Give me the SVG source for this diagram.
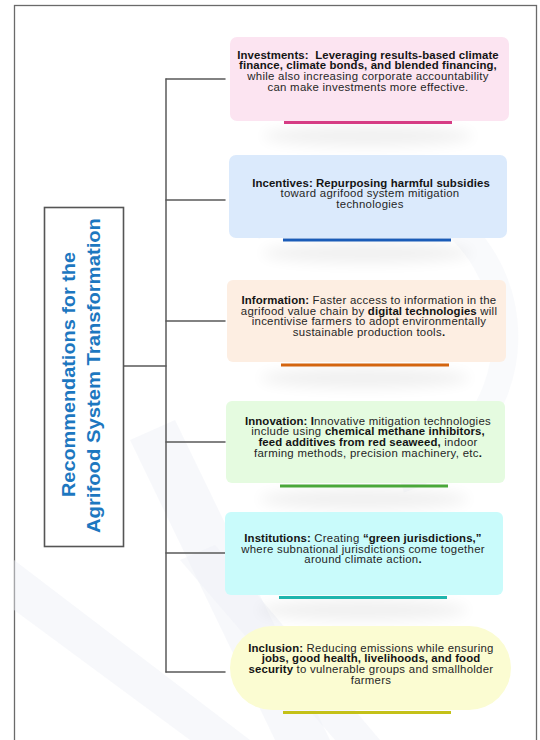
<svg xmlns="http://www.w3.org/2000/svg" width="540" height="740" viewBox="0 0 540 740">
  <defs>
    <filter id="soft" x="-50%" y="-200%" width="200%" height="500%">
      <feGaussianBlur stdDeviation="7"/>
    </filter>
    <style>
      .frame { fill: #ffffff; stroke: #6a6a6a; stroke-width: 1.3; }
      .hub { fill: #ffffff; stroke: #555555; stroke-width: 1.6; }
      .wire { fill: none; stroke: #5a5a5a; stroke-width: 1.5; stroke-linecap: round; }
      .title { font-family: "Liberation Sans", Arial, sans-serif; font-weight: bold; font-size: 18px; fill: #1d77c0; }
      .txt { font-family: "Liberation Sans", Arial, sans-serif; font-size: 11.4px; letter-spacing: 0.28px; fill: #262626; text-anchor: middle; }
      .b { font-weight: bold; fill: #141414; letter-spacing: 0.1px; }
      .shadow { fill: #000000; opacity: 0.06; filter: url(#soft); }
      .mark { fill: #eef0f6; opacity: 0.45; }
    </style>
  </defs>

  <!-- page frame -->
  <rect class="frame" x="14.5" y="5.5" width="522" height="760"/>

  <!-- faint watermark shapes -->
  <g id="watermark">
    <polygon class="mark" points="14,560 14,610 190,740 250,740"/>
    <polygon class="mark" points="130,440 175,420 330,740 275,740"/>
    <polygon class="mark" points="180,560 215,545 380,740 335,740"/>
    <path d="M250 230 A150 150 0 1 1 400 480" fill="none" stroke="#eef0f6" stroke-width="26" opacity="0.35"/>
  </g>

  <!-- soft shadows below the cards -->
  <g id="shadows">
    <ellipse class="shadow" cx="368" cy="136" rx="105" ry="10"/>
    <ellipse class="shadow" cx="367" cy="253" rx="105" ry="10"/>
    <ellipse class="shadow" cx="365" cy="378" rx="105" ry="10"/>
    <ellipse class="shadow" cx="364" cy="499" rx="105" ry="10"/>
    <ellipse class="shadow" cx="363" cy="610" rx="105" ry="10"/>
  </g>

  <!-- connectors -->
  <g id="connectors">
    <path class="wire" d="M124 366 H166"/>
    <path class="wire" d="M166 79 V672"/>
    <path class="wire" d="M166 79 H225"/>
    <path class="wire" d="M166 200 H225"/>
    <path class="wire" d="M166 321 H225"/>
    <path class="wire" d="M166 442 H225"/>
    <path class="wire" d="M166 553 H225"/>
    <path class="wire" d="M166 672 H225"/>
  </g>

  <!-- root -->
  <g id="root">
    <rect class="hub" x="44.5" y="207.5" width="79" height="339"/>
    <text class="title" transform="translate(75 374.5) rotate(-90)" text-anchor="middle" textLength="245" lengthAdjust="spacingAndGlyphs">Recommendations for the</text>
    <text class="title" transform="translate(100 375.5) rotate(-90)" text-anchor="middle" textLength="315" lengthAdjust="spacingAndGlyphs">Agrifood System Transformation</text>
  </g>

  <!-- investments -->
  <g id="investments">
    <rect x="230" y="37" width="279" height="84" rx="7" fill="#fce4f1"/>
    <rect x="284" y="121" width="168" height="3" fill="#d63c84"/>
    <text class="txt" y="58.5"><tspan class="b" x="368">Investments:&#160; Leveraging results-based climate</tspan></text>
    <text class="txt" y="69.2"><tspan class="b" x="368">finance, climate bonds, and blended financing,</tspan></text>
    <text class="txt" x="368" y="80">while also increasing corporate accountability</text>
    <text class="txt" x="368" y="90.7">can make investments more effective.</text>
  </g>

  <!-- incentives -->
  <g id="incentives">
    <rect x="229" y="155" width="278" height="83" rx="7" fill="#dbeafc"/>
    <rect x="283" y="238.5" width="168" height="3" fill="#1a5cb8"/>
    <text class="txt" y="186.5"><tspan class="b" x="371">Incentives: Repurposing harmful subsidies</tspan></text>
    <text class="txt" x="370" y="197.2">toward agrifood system mitigation</text>
    <text class="txt" x="370" y="207.9">technologies</text>
  </g>

  <!-- information -->
  <g id="information">
    <rect x="227" y="280" width="279" height="82" rx="6" fill="#fdeee2"/>
    <rect x="281" y="363.5" width="168" height="3" fill="#d4650f"/>
    <text class="txt" x="369" y="304"><tspan class="b">Information:</tspan> Faster access to information in the</text>
    <text class="txt" x="369" y="314.7">agrifood value chain by <tspan class="b">digital technologies</tspan> will</text>
    <text class="txt" x="369" y="325.4">incentivise farmers to adopt environmentally</text>
    <text class="txt" x="369" y="336.1">sustainable production tools<tspan class="b">.</tspan></text>
  </g>

  <!-- innovation -->
  <g id="innovation">
    <rect x="226" y="401" width="279" height="82" rx="6" fill="#e5fbe0"/>
    <rect x="280" y="484.5" width="168" height="3" fill="#4aa83a"/>
    <text class="txt" x="368" y="424.5"><tspan class="b">Innovation: I</tspan>nnovative mitigation technologies</text>
    <text class="txt" x="368" y="435.2">include using <tspan class="b">chemical methane inhibitors,</tspan></text>
    <text class="txt" x="368" y="445.9"><tspan class="b">feed additives from red seaweed,</tspan> indoor</text>
    <text class="txt" x="368" y="456.6">farming methods, precision machinery, etc<tspan class="b">.</tspan></text>
  </g>

  <!-- institutions -->
  <g id="institutions">
    <rect x="225" y="512" width="278" height="83" rx="6" fill="#c9fbfb"/>
    <rect x="279" y="596" width="168" height="3" fill="#1fb5ad"/>
    <text class="txt" x="363" y="542"><tspan class="b">Institutions:</tspan> Creating <tspan class="b">“green jurisdictions,”</tspan></text>
    <text class="txt" x="363" y="552.7">where subnational jurisdictions come together</text>
    <text class="txt" x="363" y="563.4">around climate action<tspan class="b">.</tspan></text>
  </g>

  <!-- inclusion -->
  <g id="inclusion">
    <rect x="230" y="626" width="281" height="84" rx="42" fill="#fbfcd2"/>
    <rect x="283" y="711" width="168" height="3" fill="#c4c118"/>
    <text class="txt" x="371" y="651.5"><tspan class="b">Inclusion:</tspan> Reducing emissions while ensuring</text>
    <text class="txt" x="371" y="662.2"><tspan class="b">jobs, good health, livelihoods, and food</tspan></text>
    <text class="txt" x="371" y="672.9"><tspan class="b">security</tspan> to vulnerable groups and smallholder</text>
    <text class="txt" x="371" y="683.6">farmers</text>
  </g>
</svg>
